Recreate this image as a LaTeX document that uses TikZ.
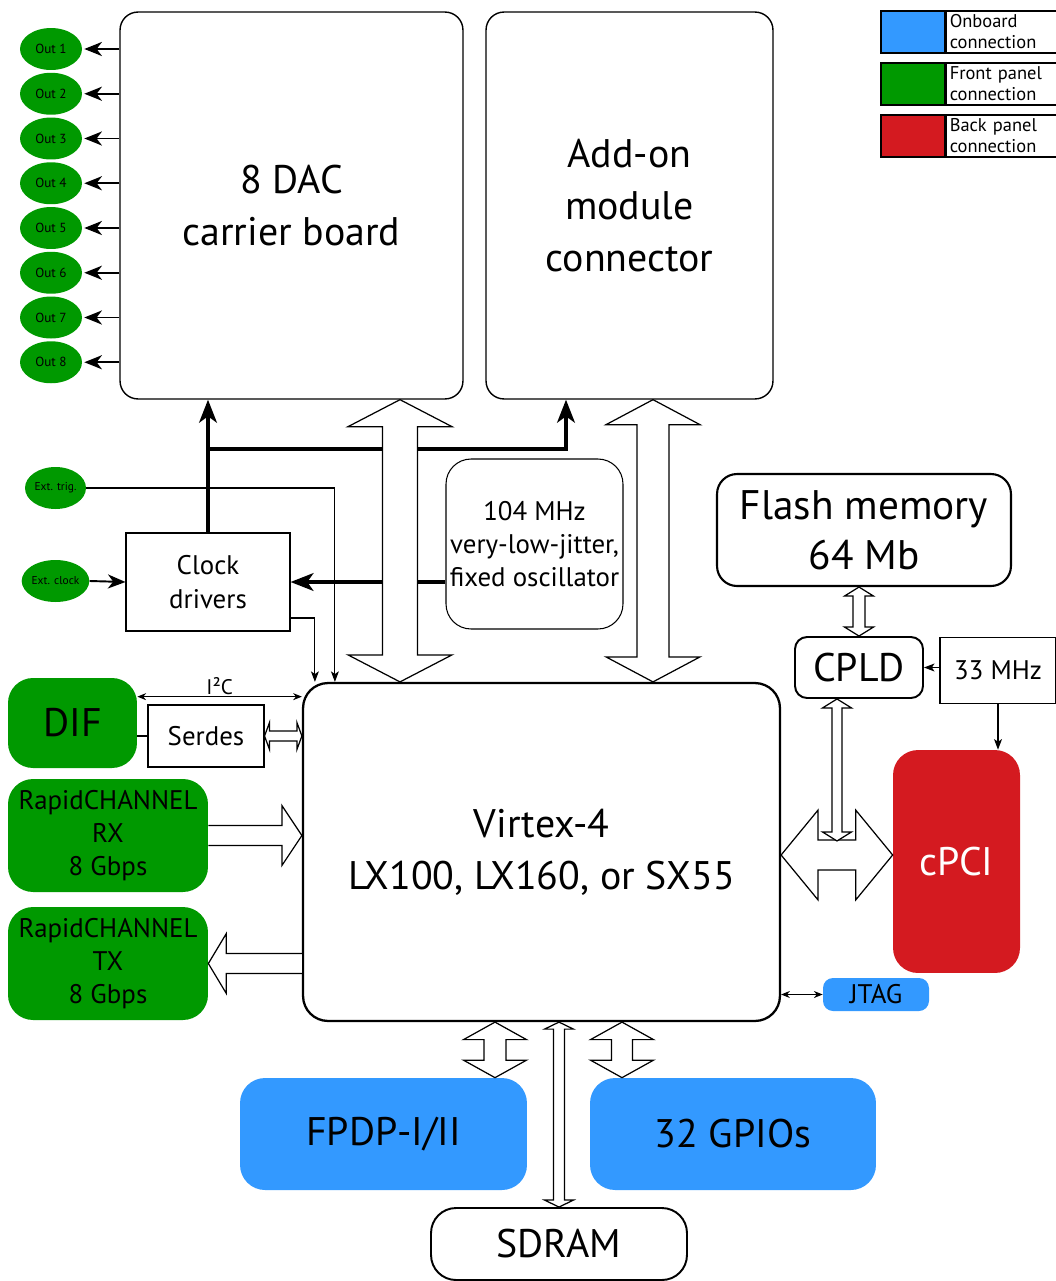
\documentclass[tikz,border=0pt]{standalone}
\usepackage{fontspec}
\setmainfont{PT Sans}
\usetikzlibrary{arrows.meta,calc,positioning,shapes.geometric}

\definecolor{onboard}{RGB}{51,153,255}
\definecolor{front}{RGB}{0,153,0}
\definecolor{back}{RGB}{212,26,32}

\newcommand{\fbig}{\fontsize{22.7}{29.5}\selectfont}
\newcommand{\fmid}{\fontsize{15.3}{19}\selectfont}
\newcommand{\fleg}{\fontsize{10.5}{12}\selectfont}
\newcommand{\fout}{\fontsize{7.5}{8}\selectfont}
\newcommand{\fext}{\fontsize{6.5}{7}\selectfont}

% hollow block arrows: top/left point, bottom/right point, shaft half, head half, head length
\newcommand{\vblock}[5]{%
  \draw[blockarrow] let \p1=#1, \p2=#2 in
    (\x1,\y1) -- (\x1+#4,\y1-#5) -- (\x1+#3,\y1-#5) -- (\x1+#3,\y2+#5)
    -- (\x1+#4,\y2+#5) -- (\x1,\y2) -- (\x1-#4,\y2+#5) -- (\x1-#3,\y2+#5)
    -- (\x1-#3,\y1-#5) -- (\x1-#4,\y1-#5) -- cycle;}
\newcommand{\hblock}[5]{%
  \draw[blockarrow] let \p1=#1, \p2=#2 in
    (\x1,\y1) -- (\x1+#5,\y1+#4) -- (\x1+#5,\y1+#3) -- (\x2-#5,\y1+#3)
    -- (\x2-#5,\y1+#4) -- (\x2,\y1) -- (\x2-#5,\y1-#4) -- (\x2-#5,\y1-#3)
    -- (\x1+#5,\y1-#3) -- (\x1+#5,\y1-#4) -- cycle;}
% single block arrow: tail, tip, shaft half, head half, head length (signed)
\newcommand{\hsingle}[5]{%
  \draw[blockarrow] let \p1=#1, \p2=#2, \n1={#5} in
    ({\x1},{\y1+#3}) -- ({\x2-\n1},{\y1+#3}) -- ({\x2-\n1},{\y1+#4}) -- ({\x2},{\y1})
    -- ({\x2-\n1},{\y1-#4}) -- ({\x2-\n1},{\y1-#3}) -- ({\x1},{\y1-#3});}

\tikzset{
  box/.style={draw, line width=0.8pt, rounded corners=0.36cm, align=center,
    inner sep=0pt, font=\fbig},
  plain/.style={draw, line width=0.6pt, align=center, inner sep=0pt, font=\fmid},
  panel/.style={rounded corners=0.5cm, align=center, inner sep=0pt},
  outnode/.style={ellipse, fill=front, minimum width=1.24cm, minimum height=0.84cm,
    inner sep=0pt, font=\fout},
  extnode/.style={ellipse, fill=front, minimum width=1.22cm, minimum height=0.84cm,
    inner sep=0pt, font=\fext},
  legswatch/.style={draw, line width=0.7pt, minimum width=1.28cm, minimum height=0.84cm,
    inner sep=0pt},
  legtext/.style={draw, line width=0.7pt, minimum width=2.2cm, minimum height=0.84cm,
    text width=2.2cm-4pt, inner xsep=2pt, inner ysep=0pt, align=left, font=\fleg},
  blockarrow/.style={draw, fill=white, line width=0.7pt, line join=miter},
  bus/.style={line width=2.8pt, -{Stealth[length=13pt,width=10pt,inset=3.5pt]}},
  outarrow/.style={line width=1.1pt, -{Stealth[length=10pt,width=8pt,inset=3pt]}},
  sig/.style={line width=0.6pt, -{Stealth[length=6pt,width=4.5pt,inset=1.5pt]}},
  link/.style={line width=0.6pt,
    {Stealth[length=5pt,width=4pt]}-{Stealth[length=5pt,width=4pt]}}
}

\begin{document}
\begin{tikzpicture}[x=0.02cm, y=-0.02cm]
  \useasboundingbox (0,0) rectangle (1055,1281);

  % upper boards
  \node[box, minimum width=6.86cm, minimum height=7.74cm] (dac) at (291.5,205.5)
    {8 DAC\\carrier board};
  \node[box, minimum width=5.74cm, minimum height=7.74cm] (addon) at (629.5,205.5)
    {\fontsize{22.7}{28.5}\selectfont Add-on\\module\\connector};

  % analog outputs
  \foreach \i in {1,...,8} {
    \node[outnode] (out\i) at (51, {49+44.75*(\i-1)}) {Out \i};
    \draw[outarrow] (dac.west |- out\i) -- ($(out\i.east)+(2,0)$);
  }

  % legend
  \foreach \c/\t [count=\i] in {onboard/Onboard, front/Front panel, back/Back panel} {
    \node[legswatch, fill=\c] (sw\i) at (913, {32+52*(\i-1)}) {};
    \node[legtext, right=0pt of sw\i] (lt\i) {\t\\connection};
  }

  % clocking
  \node[extnode] (exttrig) at (55.5,488) {Ext. trig.};
  \node[extnode] (extclk) at (55.5,581) {Ext. clock};
  \node[plain, minimum width=3.28cm, minimum height=1.96cm] (clk) at (208,582)
    {Clock\\drivers};
  \node[box, font=\fmid, line width=0.6pt, rounded corners=0.5cm,
    minimum width=3.54cm, minimum height=3.4cm] (osc) at (534.5,544)
    {104 MHz\\very-low-jitter,\\fixed oscillator};

  % FPGA and its neighbours
  \node[box, line width=1.3pt, rounded corners=0.5cm, minimum width=9.54cm,
    minimum height=6.76cm] (vtx) at (541.5,852) {Virtex-4\\LX100, LX160, or SX55};
  \node[box, line width=1.2pt, rounded corners=0.4cm, minimum width=5.88cm,
    minimum height=2.24cm, font=\fontsize{23.5}{28.5}\selectfont] (flash) at (864,530)
    {Flash memory\\64 Mb};
  \node[box, line width=1.1pt, rounded corners=0.24cm, minimum width=2.56cm,
    minimum height=1.22cm] (cpld) at (859,667.5) {CPLD};
  \node[plain, minimum width=2.32cm, minimum height=1.32cm] (mhz) at (998,670.5)
    {33 MHz};
  \node[panel, fill=back, text=white, font=\fbig, minimum width=2.54cm,
    minimum height=4.46cm] (cpci) at (956.5,861.5) {cPCI};
  \node[panel, fill=onboard, rounded corners=0.2cm, font=\fmid, minimum width=2.12cm,
    minimum height=0.66cm] (jtag) at (876,994.5) {JTAG};

  % front panel
  \node[panel, fill=front, font=\fbig, minimum width=2.58cm, minimum height=1.8cm]
    (dif) at (72.5,723) {DIF};
  \node[plain, minimum width=2.32cm, minimum height=1.24cm] (serdes) at (206,736)
    {Serdes};
  \node[panel, fill=front, font=\fmid, minimum width=4cm, minimum height=2.26cm]
    (rx) at (108,835.5) {RapidCHANNEL\\RX\\8 Gbps};
  \node[panel, fill=front, font=\fmid, minimum width=4cm, minimum height=2.26cm]
    (tx) at (108,963.5) {RapidCHANNEL\\TX\\8 Gbps};

  % onboard
  \node[panel, fill=onboard, font=\fbig, minimum width=5.74cm, minimum height=2.24cm]
    (fpdp) at (383.5,1134) {FPDP-I/II};
  \node[panel, fill=onboard, font=\fbig, minimum width=5.72cm, minimum height=2.24cm]
    (gpio) at (733,1134) {32 GPIOs};
  \node[box, line width=1.1pt, rounded corners=0.5cm, minimum width=5.12cm,
    minimum height=1.44cm] (sdram) at (559,1244) {SDRAM};

  % clock bus
  \coordinate (busjoin) at (208,449);
  \draw[bus] (clk.north) -- (clk.north |- dac.south);
  \draw[bus] (busjoin) -| ($(addon.south)+(-63.5,0)$);
  \draw[bus] (osc.west |- clk.east) -- (clk.east);
  \draw[outarrow] (extclk.east) -- (clk.west);
  \draw[sig] (exttrig.east) -| ($(vtx.north west)+(33,0)$);
  \draw[sig] ($(clk.east)+(0,36)$) -| ($(vtx.north west)+(13,0)$);

  % I2C and serdes
  \coordinate (i2cl) at ($(dif.north east)+(0,19)$);
  \draw[link] (i2cl) -- (i2cl -| vtx.west)
    node[midway, above, inner sep=1pt, font=\fontsize{12}{14}\selectfont] (i2c) {I²C};
  \draw[line width=0.6pt] (dif.east |- serdes.west) -- (serdes.west);
  \hblock{(serdes.east)}{(serdes.east -| vtx.west)}{0.1cm}{0.27cm}{0.1cm}

  % RapidCHANNEL
  \hsingle{(rx.east)}{(rx.east -| vtx.west)}{0.2cm}{0.6cm}{0.4cm}
  \hsingle{(tx.east -| vtx.west)}{(tx.east)}{0.2cm}{0.6cm}{-0.36cm}

  % wide buses
  \coordinate (bigA) at ($(dac.south)+(108.5,0)$);
  \coordinate (bigB) at ($(addon.south)+(23.5,0)$);
  \vblock{(bigA)}{(bigA |- vtx.north)}{0.35cm}{1.04cm}{0.54cm}
  \vblock{(bigB)}{(bigB |- vtx.north)}{0.32cm}{0.94cm}{0.5cm}

  \coordinate (fpa) at ($(fpdp.north)+(111.5,0)$);
  \coordinate (gpa) at ($(gpio.north)+(-111,0)$);
  \vblock{(fpa |- vtx.south)}{(fpa)}{0.22cm}{0.63cm}{0.35cm}
  \vblock{(gpa |- vtx.south)}{(gpa)}{0.21cm}{0.63cm}{0.35cm}
  \vblock{(sdram.north |- vtx.south)}{(sdram.north)}{0.11cm}{0.29cm}{0.14cm}

  % cPCI side
  \coordinate (pcia) at ($(vtx.east)+(0,3)$);
  \hblock{(pcia)}{(pcia -| cpci.west)}{0.3cm}{0.9cm}{0.74cm}
  \vblock{(flash.south -| cpld.north)}{(cpld.north)}{0.12cm}{0.29cm}{0.18cm}
  \coordinate (hubtop) at ($(cpld.south)+(-22,0)$);
  \coordinate (hub) at ($(cpld.south)+(-22,142)$);
  \vblock{(hubtop)}{(hub)}{0.1cm}{0.29cm}{0.18cm}
  \draw[sig] (mhz.west |- cpld.east) -- (cpld.east);
  \draw[sig] (mhz.south) -- (mhz.south |- cpci.north);
  \draw[link] (vtx.east |- jtag.west) -- (jtag.west);
\end{tikzpicture}
\end{document}
